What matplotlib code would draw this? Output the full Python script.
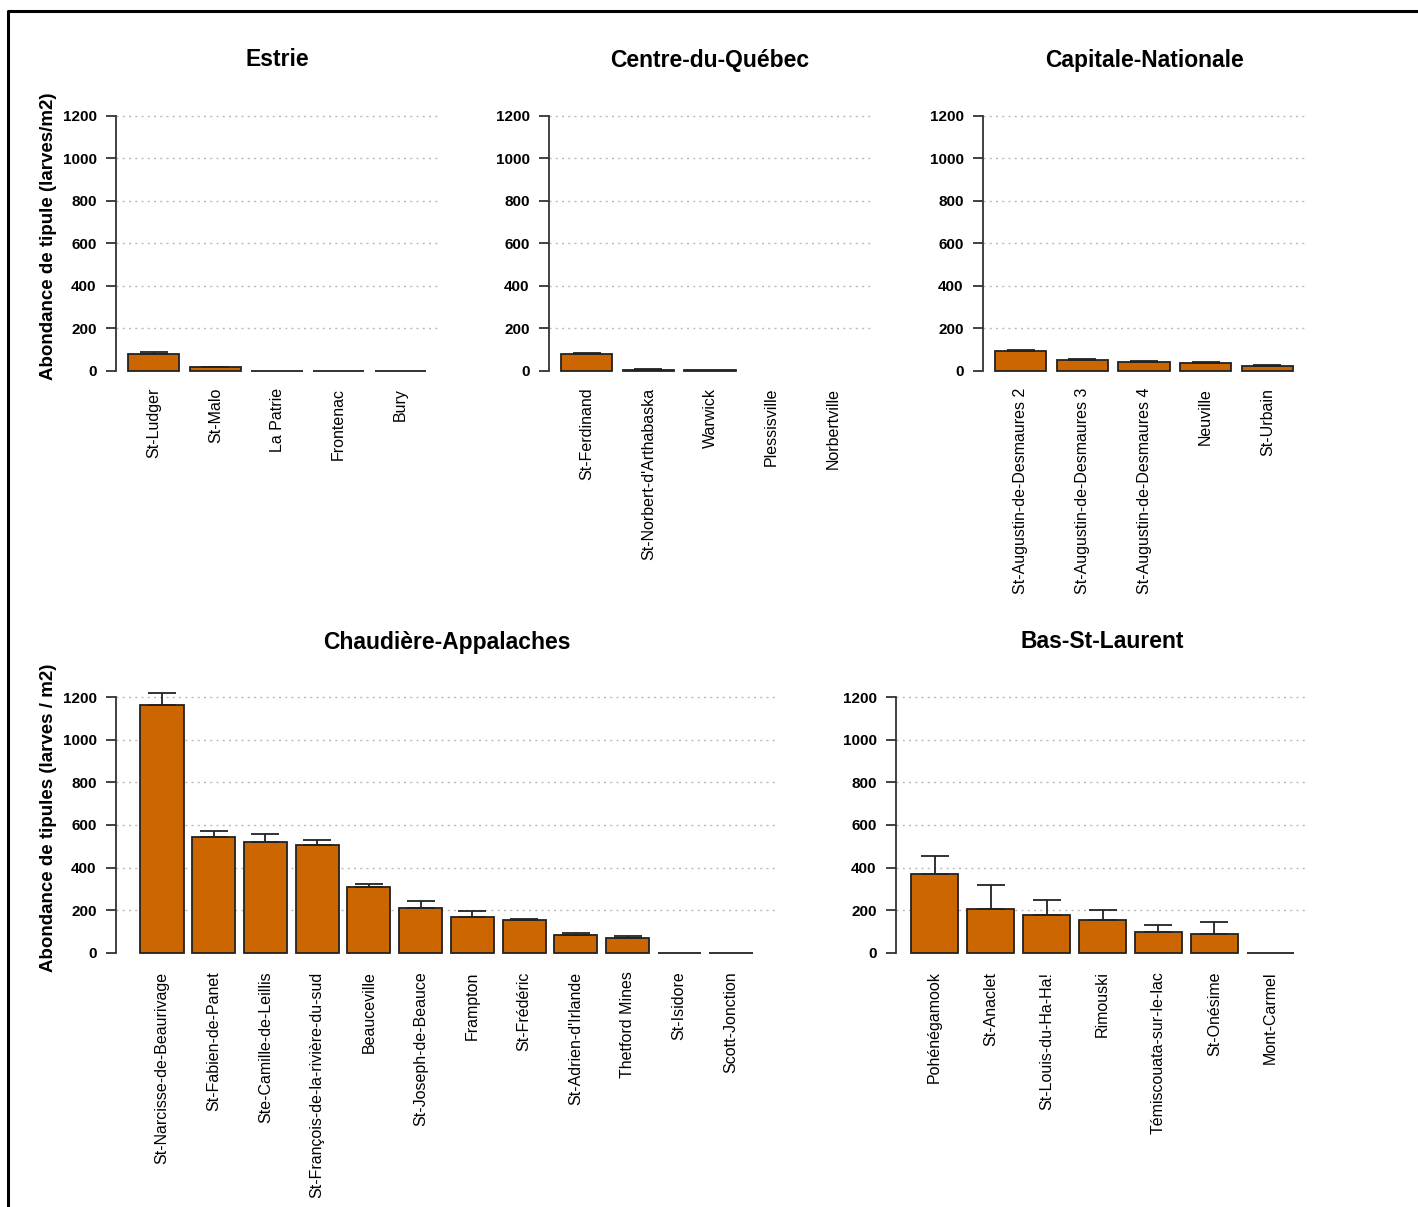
import numpy as np
import matplotlib
matplotlib.use("Agg")
import matplotlib.pyplot as plt
from matplotlib.lines import Line2D

plt.rcParams["font.family"] = ["Liberation Sans", "DejaVu Sans"]

# abondance moyenne (larves/m2) et erreur type par site
estrie_sites = ["St-Ludger", "St-Malo", "La Patrie", "Frontenac", "Bury"]
estrie_mean = [77, 16, 0, 0, 0]
estrie_se = [12, 2, 0, 0, 0]

centre_sites = ["St-Ferdinand", "St-Norbert-d'Arthabaska", "Warwick",
                "Plessisville", "Norbertville"]
centre_mean = [77, 4, 1, np.nan, np.nan]
centre_se = [6, 1, 0, np.nan, np.nan]

capitale_sites = ["St-Augustin-de-Desmaures 2", "St-Augustin-de-Desmaures 3",
                  "St-Augustin-de-Desmaures 4", "Neuville", "St-Urbain"]
capitale_mean = [91, 48, 42, 36, 22]
capitale_se = [6, 7, 5, 5, 6]

chaud_sites = ["St-Narcisse-de-Beaurivage", "St-Fabien-de-Panet",
               "Ste-Camille-de-Leillis", "St-François-de-la-rivière-du-sud",
               "Beauceville", "St-Joseph-de-Beauce", "Frampton", "St-Frédéric",
               "St-Adrien-d'Irlande", "Thetford Mines", "St-Isidore",
               "Scott-Jonction"]
chaud_mean = [1164, 544, 518, 505, 309, 213, 167, 153, 84, 70, 0, 0]
chaud_se = [57, 26, 40, 25, 14, 29, 28, 8, 8, 8, 0, 0]

bsl_sites = ["Pohénégamook", "St-Anaclet", "St-Louis-du-Ha-Ha!", "Rimouski",
             "Témiscouata-sur-le-lac", "St-Onésime", "Mont-Carmel"]
bsl_mean = [372, 207, 180, 153, 97, 90, 0]
bsl_se = [83, 110, 70, 47, 33, 56, 0]

yticks = [0, 200, 400, 600, 800, 1000, 1200]

W, H = 1418, 1207
fig = plt.figure(figsize=(W / 100, H / 100), dpi=100)


def px_axes(left, top, width, height):
    return fig.add_axes([left / W, 1 - (top + height) / H, width / W, height / H])


def panel(ax, sites, mean, se, title, title_y, ylabel=None, label_pad=5):
    n = len(sites)
    mean = np.asarray(mean, dtype=float)
    se = np.asarray(se, dtype=float)
    x = 0.7 + 1.2 * np.arange(n)
    ext = 0.04 * (1.2 * n - 0.2)
    ax.set_xlim(0.2 - ext, 1.2 * n + ext)
    ax.set_ylim(-48, 1248)

    for g in yticks[1:]:
        ax.axhline(g, color="#bbbbbb", lw=1.0, ls=(0, (1.5, 3)), zorder=0)

    ax.bar(x, mean, width=1.0, color="#CC6600", edgecolor="#222222",
           linewidth=1.3, zorder=2)
    ok = np.isfinite(se) & (se > 0)
    ax.errorbar(x[ok], mean[ok], yerr=[np.zeros(ok.sum()), se[ok]], fmt="none",
                ecolor="#222222", elinewidth=1.3, capsize=10, capthick=1.3,
                zorder=3)

    for s in ["top", "right", "bottom"]:
        ax.spines[s].set_visible(False)
    ax.spines["left"].set_bounds(0, 1200)
    ax.spines["left"].set_color("#333333")
    ax.spines["left"].set_linewidth(1.3)
    ax.set_yticks(yticks)
    ax.set_yticklabels([str(t) for t in yticks], fontsize=11, fontweight="bold")
    ax.tick_params(axis="y", length=7, width=1.3, color="#333333", pad=7)
    ax.set_xticks(x)
    ax.set_xticklabels(sites, rotation=90, va="top", ha="center", fontsize=11.5)
    ax.tick_params(axis="x", length=0, pad=label_pad)

    # titre centré au-dessus du panneau
    bb = ax.get_position()
    fig.text((bb.x0 + bb.x1) / 2, 1 - title_y / H, title, ha="center",
             va="center", fontsize=16.5, fontweight="bold")
    if ylabel:
        fig.text(49 / W, (bb.y0 + bb.y1) / 2 + 0.006, ylabel, rotation=90,
                 ha="center", va="center", fontsize=13.5, fontweight="bold")


top_y, top_h = 105.8, 274.9
ax1 = px_axes(116, top_y, 322, top_h)
ax2 = px_axes(549, top_y, 322, top_h)
ax3 = px_axes(983, top_y, 322, top_h)
bot_y, bot_h = 686.8, 276.4
ax4 = px_axes(116, bot_y, 661, bot_h)
ax5 = px_axes(896, bot_y, 413, bot_h)

panel(ax1, estrie_sites, estrie_mean, estrie_se, "Estrie", 60,
      "Abondance de tipule (larves/m2)")
panel(ax2, centre_sites, centre_mean, centre_se, "Centre-du-Québec", 60)
panel(ax3, capitale_sites, capitale_mean, capitale_se, "Capitale-Nationale", 60)
panel(ax4, chaud_sites, chaud_mean, chaud_se, "Chaudière-Appalaches", 642,
      "Abondance de tipules (larves / m2)", label_pad=6)
panel(ax5, bsl_sites, bsl_mean, bsl_se, "Bas-St-Laurent", 642, label_pad=6)

# cadre gauche et haut
fig.add_artist(Line2D([8 / W, 8 / W, 1], [0, 1 - 11 / H, 1 - 11 / H],
                      color="black", lw=2.2))

fig.savefig("out.png", dpi=100)
